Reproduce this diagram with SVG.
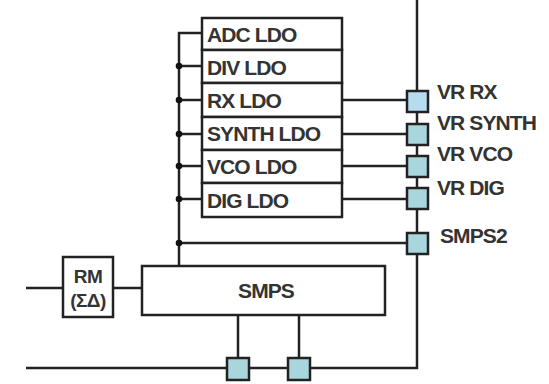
<svg xmlns="http://www.w3.org/2000/svg" width="549" height="384" viewBox="0 0 549 384">
<style>
.ln{fill:none;stroke:#222;stroke-width:2.5}
.bx{fill:#fff;stroke:#222;stroke-width:2.5}
.sq{fill:#a9d6dc;stroke:#222;stroke-width:2.5}
.t{font-family:"Liberation Sans",Arial,sans-serif;font-weight:bold;font-size:21px;fill:#333;letter-spacing:-0.9px}
.dot{fill:#111}
</style>
<rect width="549" height="384" fill="#fff"/>
<g id="connectors">
<polyline class="ln" points="202,33 179,33 179,266"/>
<line class="ln" x1="179" y1="66" x2="202" y2="66"/>
<line class="ln" x1="179" y1="100" x2="202" y2="100"/>
<line class="ln" x1="179" y1="134" x2="202" y2="134"/>
<line class="ln" x1="179" y1="166" x2="202" y2="166"/>
<line class="ln" x1="179" y1="199" x2="202" y2="199"/>
<line class="ln" x1="179" y1="243" x2="407" y2="243"/>
<line class="ln" x1="342" y1="100" x2="407" y2="100"/>
<line class="ln" x1="342" y1="134" x2="407" y2="134"/>
<line class="ln" x1="342" y1="166" x2="407" y2="166"/>
<line class="ln" x1="342" y1="199" x2="407" y2="199"/>
<line class="ln" x1="417" y1="0" x2="417" y2="243"/>
<polyline class="ln" points="417,243 417,368 26,368"/>
<line class="ln" x1="26" y1="288" x2="63" y2="288"/>
<line class="ln" x1="113" y1="288" x2="142" y2="288"/>
<line class="ln" x1="238" y1="315" x2="238" y2="368"/>
<line class="ln" x1="299" y1="315" x2="299" y2="368"/>
<circle class="dot" cx="179" cy="66" r="3.3"/>
<circle class="dot" cx="179" cy="100" r="3.3"/>
<circle class="dot" cx="179" cy="134" r="3.3"/>
<circle class="dot" cx="179" cy="166" r="3.3"/>
<circle class="dot" cx="179" cy="199" r="3.3"/>
<circle class="dot" cx="179" cy="243" r="3.3"/>
</g>
<g id="adc-ldo"><rect class="bx" x="202" y="18" width="140" height="32"/><text class="t" x="207" y="42">ADC LDO</text></g>
<g id="div-ldo"><rect class="bx" x="202" y="50" width="140" height="33"/><text class="t" x="207" y="75">DIV LDO</text></g>
<g id="rx-ldo"><rect class="bx" x="202" y="83" width="140" height="34"/><text class="t" x="207" y="108">RX LDO</text></g>
<g id="synth-ldo"><rect class="bx" x="202" y="117" width="140" height="33"/><text class="t" x="207" y="141">SYNTH LDO</text></g>
<g id="vco-ldo"><rect class="bx" x="202" y="150" width="140" height="33"/><text class="t" x="207" y="174">VCO LDO</text></g>
<g id="dig-ldo"><rect class="bx" x="202" y="183" width="140" height="34"/><text class="t" x="207" y="208">DIG LDO</text></g>
<g id="vr-rx"><rect class="sq" x="407" y="91" width="21" height="21" style="fill:#b6dcf0"/><text class="t" x="437" y="99">VR RX</text></g>
<g id="vr-synth"><rect class="sq" x="407" y="124" width="21" height="21"/><text class="t" x="437" y="130">VR SYNTH</text></g>
<g id="vr-vco"><rect class="sq" x="407" y="156" width="21" height="21"/><text class="t" x="437" y="161">VR VCO</text></g>
<g id="vr-dig"><rect class="sq" x="407" y="188" width="21" height="21"/><text class="t" x="437" y="195">VR DIG</text></g>
<g id="smps2"><rect class="sq" x="407" y="233" width="21" height="21"/><text class="t" x="440" y="243">SMPS2</text></g>
<g id="rm"><rect class="bx" x="63" y="257" width="50" height="60"/><text class="t" x="88" y="283" text-anchor="middle" style="font-size:19px;letter-spacing:-0.6px">RM</text><text class="t" x="88" y="307" text-anchor="middle" style="font-size:19px;letter-spacing:-0.6px">(ΣΔ)</text></g>
<g id="smps"><rect class="bx" x="142" y="266" width="243" height="49"/><text class="t" x="266" y="298" text-anchor="middle">SMPS</text></g>
<g id="pin1"><rect class="sq" x="227" y="358" width="22" height="22"/></g>
<g id="pin2"><rect class="sq" x="288" y="358" width="22" height="22"/></g>
</svg>
